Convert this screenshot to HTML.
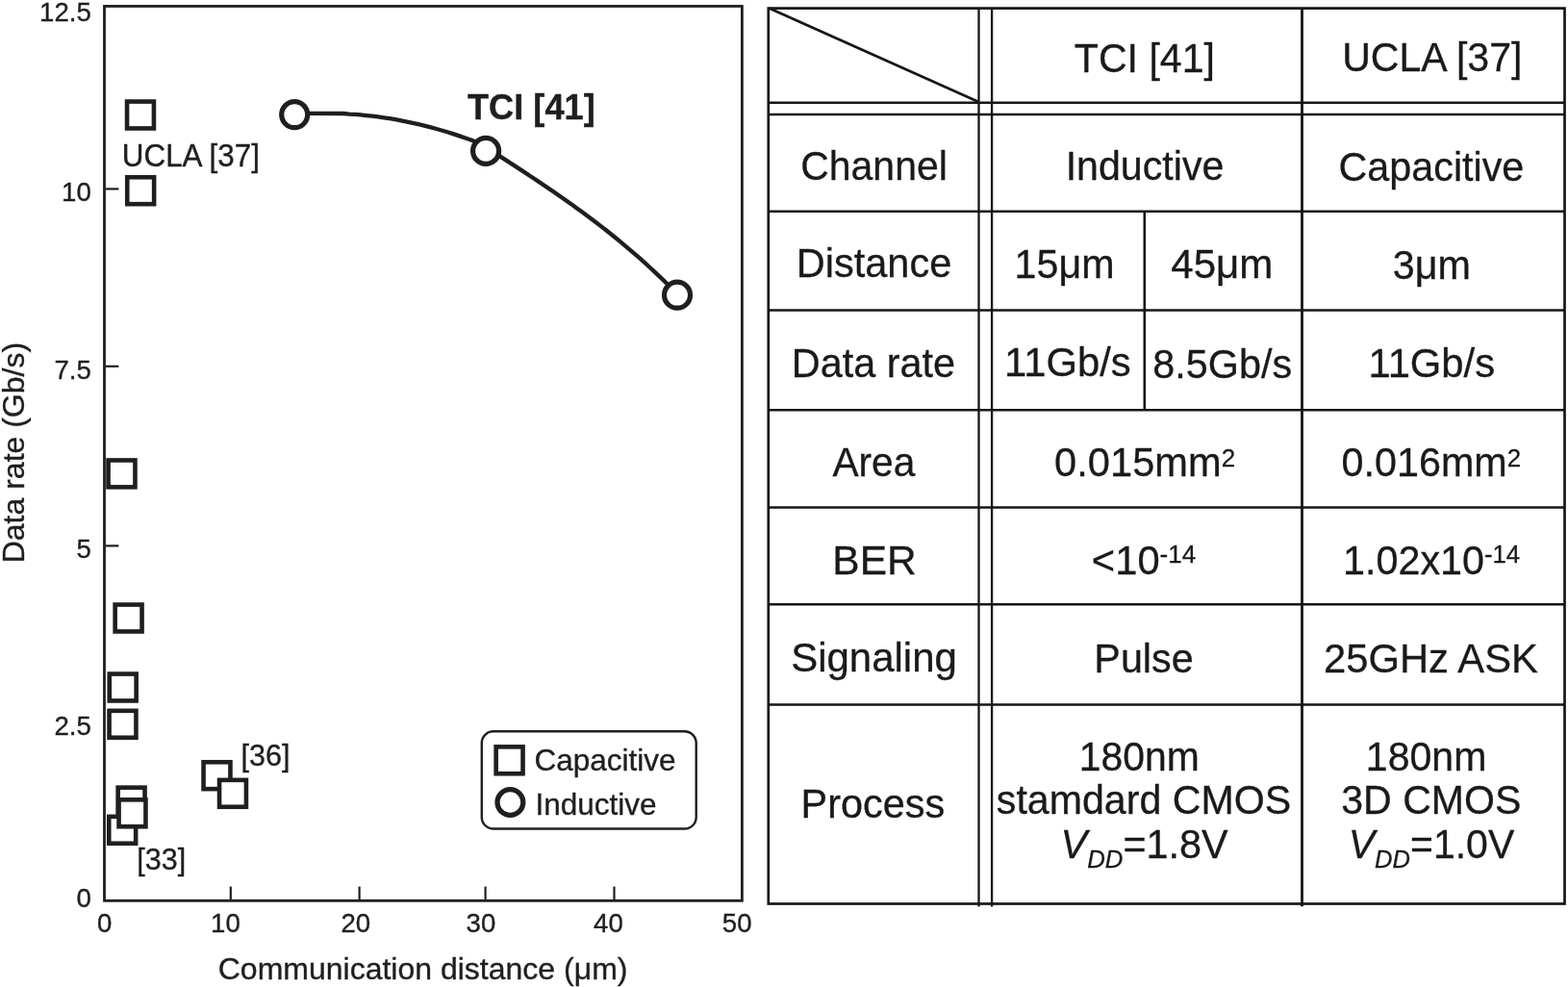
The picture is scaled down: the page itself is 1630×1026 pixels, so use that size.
<!DOCTYPE html>
<html><head><meta charset="utf-8"><title>TCI vs UCLA comparison</title>
<style>
html,body{margin:0;padding:0;background:#fff;width:1630px;height:1026px;overflow:hidden}
svg{display:block}
</style></head><body>
<svg width="1630" height="1026" viewBox="0 0 1630 1026">
<rect width="1630" height="1026" fill="#fff"/>
<g fill="none" stroke="#1f1f1f">
<rect x="108.5" y="6.45" width="662.9" height="929.85" stroke-width="2.8"/>
<line x1="110" y1="196.4" x2="123.4" y2="196.4" stroke-width="2.2"/>
<line x1="110" y1="380.8" x2="123.4" y2="380.8" stroke-width="2.2"/>
<line x1="110" y1="567.4" x2="123.4" y2="567.4" stroke-width="2.2"/>
<line x1="239.8" y1="921.6" x2="239.8" y2="935" stroke-width="2.2"/>
<line x1="373.6" y1="921.6" x2="373.6" y2="935" stroke-width="2.2"/>
<line x1="504.6" y1="921.6" x2="504.6" y2="935" stroke-width="2.2"/>
<line x1="638.5" y1="921.6" x2="638.5" y2="935" stroke-width="2.2"/>
</g>
<path d="M322,117.8 L357,118 L363.0,118.56 L369.0,118.97 L375.0,119.46 L381.0,120.04 L387.0,120.70 L393.0,121.45 L399.0,122.29 L405.0,123.22 L411.0,124.23 L417.0,125.33 L423.0,126.52 L429.0,127.80 L435.0,129.16 L441.0,130.61 L447.0,132.14 L453.0,133.76 L459.0,135.47 L465.0,137.27 L471.0,139.16 L477.0,141.13 L483.0,143.19 L489.0,145.33 L495.0,147.56 L501.0,149.88 L507.0,152.29 M505,152.93 L510.0,156.17 L515.0,159.40 L520.0,162.64 L525.0,165.88 L530.0,169.13 L535.0,172.38 L540.0,175.64 L545.0,178.92 L550.0,182.22 L555.0,185.53 L560.0,188.87 L565.0,192.23 L570.0,195.62 L575.0,199.03 L580.0,202.48 L585.0,205.96 L590.0,209.48 L595.0,213.04 L600.0,216.64 L605.0,220.29 L610.0,223.98 L615.0,227.73 L620.0,231.52 L625.0,235.37 L630.0,239.28 L635.0,243.25 L640.0,247.28 L645.0,251.38 L650.0,255.55 L655.0,259.78 L660.0,264.09 L665.0,268.48 L670.0,272.94 L675.0,277.49 L680.0,282.11 L685.0,286.83 L690.0,291.63 L695.0,296.52 L700.0,301.51" fill="none" stroke="#1f1f1f" stroke-width="4.3" stroke-linecap="round" stroke-linejoin="round"/>
<rect x="132.05" y="105.55" width="27.90" height="27.90" fill="#fff" stroke="#1f1f1f" stroke-width="4.6"/>
<rect x="132.25" y="184.25" width="27.90" height="27.90" fill="#fff" stroke="#1f1f1f" stroke-width="4.6"/>
<rect x="112.55" y="478.45" width="27.90" height="27.90" fill="#fff" stroke="#1f1f1f" stroke-width="4.6"/>
<rect x="119.65" y="628.55" width="27.90" height="27.90" fill="#fff" stroke="#1f1f1f" stroke-width="4.6"/>
<rect x="113.75" y="700.55" width="27.90" height="27.90" fill="#fff" stroke="#1f1f1f" stroke-width="4.6"/>
<rect x="113.55" y="738.85" width="27.90" height="27.90" fill="#fff" stroke="#1f1f1f" stroke-width="4.6"/>
<rect x="122.65" y="818.65" width="27.90" height="27.90" fill="#fff" stroke="#1f1f1f" stroke-width="4.6"/>
<rect x="113.25" y="848.85" width="27.90" height="27.90" fill="#fff" stroke="#1f1f1f" stroke-width="4.6"/>
<rect x="123.55" y="831.35" width="27.90" height="27.90" fill="#fff" stroke="#1f1f1f" stroke-width="4.6"/>
<rect x="211.55" y="792.25" width="27.90" height="27.90" fill="#fff" stroke="#1f1f1f" stroke-width="4.6"/>
<rect x="228.05" y="810.85" width="27.90" height="27.90" fill="#fff" stroke="#1f1f1f" stroke-width="4.6"/>
<circle cx="306.2" cy="119.2" r="13.5" fill="#fff" stroke="#1f1f1f" stroke-width="5.2"/>
<circle cx="505.1" cy="156.9" r="13.5" fill="#fff" stroke="#1f1f1f" stroke-width="5.2"/>
<circle cx="704.0" cy="306.7" r="13.5" fill="#fff" stroke="#1f1f1f" stroke-width="5.2"/>
<rect x="500.8" y="760.3" width="222.9" height="101.2" rx="12" ry="12" fill="#fff" stroke="#1f1f1f" stroke-width="2.4"/>
<rect x="515.65" y="776.35" width="27.90" height="27.90" fill="#fff" stroke="#1f1f1f" stroke-width="4.6"/>
<circle cx="530.4" cy="834" r="13.4" fill="#fff" stroke="#1f1f1f" stroke-width="5.3"/>
<g fill="#1f1f1f" stroke="#1f1f1f" stroke-width="0.35" font-family='"Liberation Sans", Arial, Helvetica, sans-serif'>
<text x="94.8" y="21.8" font-size="27.6" text-anchor="end">12.5</text>
<text x="94.8" y="208.6" font-size="27.6" text-anchor="end">10</text>
<text x="94.8" y="393.7" font-size="27.6" text-anchor="end">7.5</text>
<text x="94.8" y="580.4" font-size="27.6" text-anchor="end">5</text>
<text x="94.8" y="764.2" font-size="27.6" text-anchor="end">2.5</text>
<text x="94.8" y="943.3" font-size="27.6" text-anchor="end">0</text>
<text x="108.6" y="969.2" font-size="27.6" text-anchor="middle">0</text>
<text x="234.4" y="969.2" font-size="27.6" text-anchor="middle">10</text>
<text x="369.8" y="969.2" font-size="27.6" text-anchor="middle">20</text>
<text x="499.9" y="969.2" font-size="27.6" text-anchor="middle">30</text>
<text x="632.4" y="969.2" font-size="27.6" text-anchor="middle">40</text>
<text x="766.2" y="969.2" font-size="27.6" text-anchor="middle">50</text>
<text x="439.6" y="1017.6" font-size="32" text-anchor="middle">Communication distance (μm)</text>
<text transform="translate(24.9,470.6) rotate(-90)" font-size="32" text-anchor="middle">Data rate (Gb/s)</text>
<text transform="translate(126.8,172.6) scale(1,1.06)" font-size="31.4">UCLA [37]</text>
<text transform="translate(486,124.4) scale(1,1.03)" font-size="36.2" font-weight="bold">TCI [41]</text>
<text x="250.5" y="796.1" font-size="30.5">[36]</text>
<text x="142.3" y="903.5" font-size="30.5">[33]</text>
<text x="555.5" y="800.8" font-size="31.5">Capacitive</text>
<text x="556.5" y="847.2" font-size="31.5">Inductive</text>
</g>
<g fill="none" stroke="#161616" stroke-width="2.5">
<rect x="798.8" y="8.6" width="827.7" height="930.9" stroke-width="2.7"/>
<line x1="1017.5" y1="8.6" x2="1017.5" y2="942.5" stroke-width="2.3"/>
<line x1="1031.1" y1="8.6" x2="1031.1" y2="942.5" stroke-width="2.3"/>
<line x1="1353.5" y1="8.6" x2="1353.5" y2="942.3" stroke-width="2.8"/>
<line x1="1189.8" y1="219.7" x2="1189.8" y2="426.2" stroke-width="2.6"/>
<line x1="798.8" y1="106.7" x2="1626.5" y2="106.7"/>
<line x1="798.8" y1="119.0" x2="1626.5" y2="119.0"/>
<line x1="798.8" y1="219.7" x2="1626.5" y2="219.7"/>
<line x1="798.8" y1="322.6" x2="1626.5" y2="322.6"/>
<line x1="798.8" y1="426.2" x2="1626.5" y2="426.2"/>
<line x1="798.8" y1="527.5" x2="1626.5" y2="527.5"/>
<line x1="798.8" y1="628.3" x2="1626.5" y2="628.3"/>
<line x1="798.8" y1="732.4" x2="1626.5" y2="732.4"/>
<line x1="799.5" y1="8.5" x2="1017.5" y2="106" stroke-width="2.9"/>
</g>
<g fill="#1a1a1a" stroke="#1a1a1a" stroke-width="0.3" font-family='"Liberation Sans", Arial, Helvetica, sans-serif' font-size="41.7" text-anchor="middle">
<text transform="translate(1189.9,75.2) scale(0.986,1)">TCI [41]</text>
<text transform="translate(1488.8,73.5) scale(0.985,1)">UCLA [37]</text>
<text transform="translate(908.5,187.1) scale(0.983,1)">Channel</text>
<text transform="translate(1190.0,187.2) scale(0.987,1)">Inductive</text>
<text transform="translate(1487.9,187.7) scale(0.991,1)">Capacitive</text>
<text transform="translate(908.5,288.4) scale(0.996,1)">Distance</text>
<text transform="translate(1106.5,289.4) scale(0.989,1)">15μm</text>
<text transform="translate(1270.3,289.4) scale(1.010,1)">45μm</text>
<text transform="translate(1488.4,290.0) scale(0.990,1)">3μm</text>
<text transform="translate(908.0,391.5) scale(0.993,1)">Data rate</text>
<text transform="translate(1109.9,390.8) scale(1.002,1)">11Gb/s</text>
<text transform="translate(1270.7,393.2) scale(0.992,1)">8.5Gb/s</text>
<text transform="translate(1488.3,391.8) scale(1.002,1)">11Gb/s</text>
<text transform="translate(908.4,495.0) scale(0.977,1)">Area</text>
<text transform="translate(909.0,596.8) scale(1.019,1)">BER</text>
<text transform="translate(908.5,697.7) scale(1.007,1)">Signaling</text>
<text transform="translate(1189.0,698.7) scale(0.990,1)">Pulse</text>
<text transform="translate(1487.4,698.7) scale(1.002,1)">25GHz ASK</text>
<text transform="translate(907.4,849.5) scale(0.995,1)">Process</text>
<text transform="translate(1184.2,801.1) scale(0.981,1)">180nm</text>
<text transform="translate(1189.0,845.9) scale(0.987,1)">stamdard CMOS</text>
<text transform="translate(1482.6,801.1) scale(0.985,1)">180nm</text>
<text transform="translate(1487.8,845.9) scale(0.985,1)">3D CMOS</text>
<text transform="translate(1190.1,495.0) scale(0.999,1)">0.015mm<tspan font-size="26" dy="-10">2</tspan></text>
<text transform="translate(1487.8,495.0) scale(0.991,1)">0.016mm<tspan font-size="26" dy="-10">2</tspan></text>
<text transform="translate(1189.0,596.8) scale(1.000,1)">&lt;10<tspan font-size="26" dy="-11.5">-14</tspan></text>
<text transform="translate(1488.1,596.8) scale(0.990,1)">1.02x10<tspan font-size="26" dy="-11.5">-14</tspan></text>
<text transform="translate(1189.6,891.7) scale(0.992,1)"><tspan font-style="italic">V</tspan><tspan font-style="italic" font-size="26" dy="10.5">DD</tspan><tspan dy="-10.5">=1.8V</tspan></text>
<text transform="translate(1488.0,891.7) scale(0.983,1)"><tspan font-style="italic">V</tspan><tspan font-style="italic" font-size="26" dy="10.5">DD</tspan><tspan dy="-10.5">=1.0V</tspan></text>
</g>
</svg>
</body></html>
